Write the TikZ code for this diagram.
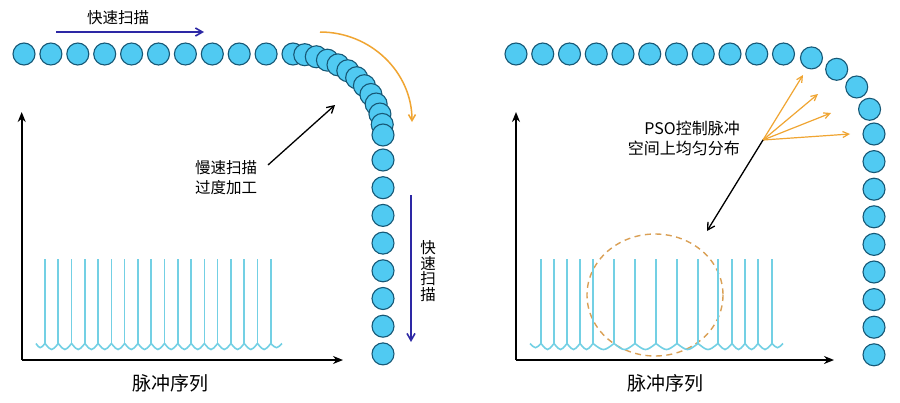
\documentclass[tikz,border=0pt]{standalone}
\usepackage{fontspec}
\setmainfont{Noto Sans CJK SC}
\usetikzlibrary{arrows.meta}
\definecolor{dotfill}{RGB}{80,202,242}
\definecolor{dotline}{RGB}{22,88,118}
\definecolor{scanblue}{RGB}{45,40,165}
\definecolor{arcorange}{RGB}{240,165,50}
\definecolor{pulsecol}{RGB}{115,208,228}
\definecolor{dashorange}{RGB}{218,160,85}
\begin{document}
\begin{tikzpicture}[x=1pt,y=-1pt,
  dot/.style={circle,draw=dotline,fill=dotfill,line width=1.1pt,minimum size=22pt,inner sep=0pt},
  pulse/.style={draw=pulsecol,line width=1.6pt},
  axis/.style={draw=black,line width=1.8pt,-{Stealth[length=10pt,width=8pt]}},
  bluearrow/.style={draw=scanblue,line width=1.6pt,-{Straight Barb[length=7pt,width=8pt]}},
  orangearrow/.style={draw=arcorange,line width=1.5pt,-{Straight Barb[length=6pt,width=7pt]}},
  fanarrow/.style={draw=arcorange,line width=1.2pt,-{Straight Barb[length=6pt,width=6pt]}},
  blackarrow/.style={draw=black,line width=1.3pt,-{Straight Barb[length=7pt,width=8pt]}},
  lbl/.style={font=\fontsize{15.5}{20}\selectfont,inner sep=0pt},
  biglbl/.style={font=\fontsize{19}{22}\selectfont,inner sep=0pt}
]
\useasboundingbox (0,0) rectangle (900,402);
\fill[white] (0,0) rectangle (900,402);

% ================= LEFT PANEL =================
\coordinate (LO) at (21.7,360);
\coordinate (LY) at (21.7,112);
\coordinate (LX) at (343,360);
\draw[axis] (LO) -- (LY);
\draw[axis] (LO) -- (LX);
\node[biglbl] (Lseq) at (170,383) {脉冲序列};

\foreach \i in {0,...,17} {
  \draw[pulse] ({45+\i*13.28},259) -- ({45+\i*13.28},343.5);
}
\draw[pulse] (36,343.5) .. controls (40,349) .. (45,343.5);
\foreach \i in {0,...,16} {
  \draw[pulse] ({45+\i*13.28},343.5) .. controls ({45+(\i+0.5)*13.28},351.5) .. ({45+(\i+1)*13.28},343.5);
}
\draw[pulse] (270.76,343.5) .. controls (276.5,349) .. (282,343.5);

\foreach \i in {0,...,10} { \node[dot] (L\i) at ({24+\i*26.9},54) {}; }
\foreach \i in {1,...,12} { \node[dot] (LA\i) at ({293+90*cos(90-\i*7.5)},{135-81*sin(90-\i*7.5)}) {}; }
\foreach \i in {0,...,7} { \node[dot] (LV\i) at (383,{160+\i*27.7}) {}; }

\coordinate (B1s) at (56,32);
\coordinate (B1e) at (204,32);
\draw[bluearrow] (B1s) -- (B1e);
\node[lbl] (T1) at (118,18) {快速扫描};

\coordinate (O1s) at (320,32);
\draw[orangearrow] (O1s) arc[start angle=-90,end angle=0,x radius=92,y radius=90];

\node[lbl,align=left,anchor=west] (T2) at (195,178) {慢速扫描\\过度加工};
\coordinate (K1s) at (268,165);
\coordinate (K1e) at (335,105);
\draw[blackarrow] (K1s) -- (K1e);

\coordinate (B2s) at (411,195);
\coordinate (B2e) at (411,342);
\draw[bluearrow] (B2s) -- (B2e);
\node[font=\fontsize{15.5}{15.5}\selectfont,align=center,inner sep=0pt] (T3) at (428,271) {快\\速\\扫\\描};

% ================= RIGHT PANEL =================
\coordinate (RO) at (516,360);
\coordinate (RY) at (516,112);
\coordinate (RX) at (834,360);
\draw[axis] (RO) -- (RY);
\draw[axis] (RO) -- (RX);
\node[biglbl] (Rseq) at (665,383) {脉冲序列};

\draw[dashorange,line width=1.4pt,dash pattern=on 6pt off 4.5pt] (655,295) ellipse [x radius=68,y radius=61];

\foreach \x in {541,554,567,580,593,614,635,656,677,698,718,732,745,758,772} {
  \draw[pulse] (\x,259) -- (\x,343.5);
}
\draw[pulse] (530,343.5) .. controls (535.5,349) .. (541,343.5);
\foreach \a/\b in {541/554,554/567,567/580,580/593,593/614,614/635,635/656,656/677,677/698,698/718,718/732,732/745,745/758,758/772} {
  \draw[pulse] (\a,343.5) .. controls ({(\a+\b)/2},351.5) .. (\b,343.5);
}
\draw[pulse] (772,343.5) .. controls (777.5,349) .. (783,343.5);

\foreach \i in {0,...,10} { \node[dot] (R\i) at ({516+\i*26.75},54) {}; }
\foreach \i in {1,...,4} { \node[dot] (RA\i) at ({783.5+90.5*cos(90-\i*18)},{134-80*sin(90-\i*18)}) {}; }
\foreach \i in {0,...,8} { \node[dot] (RV\i) at (874,{134+\i*27.6}) {}; }

\node[font=\fontsize{16}{20}\selectfont,align=right,anchor=east,inner sep=0pt] (T4) at (740,138) {PSO控制脉冲\\空间上均匀分布};

\coordinate (F0) at (763,140);
\coordinate (F1) at (803,75);
\coordinate (F2) at (818,94);
\coordinate (F3) at (831,113);
\coordinate (F4) at (850,134);
\foreach \k in {1,...,4} { \draw[fanarrow] (F0) -- (F\k); }
\coordinate (K2e) at (707,231);
\draw[blackarrow] (F0) -- (K2e);
\end{tikzpicture}
\end{document}
